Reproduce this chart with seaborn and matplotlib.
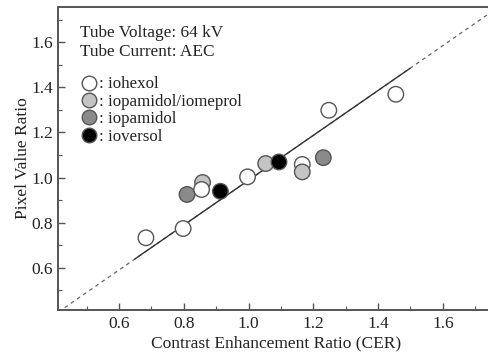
import numpy as np
import pandas as pd
import matplotlib
matplotlib.use("Agg")
import matplotlib.pyplot as plt
from matplotlib.lines import Line2D
from matplotlib.ticker import MultipleLocator
import seaborn as sns

# ---- data ----
agents = ["iohexol", "iopamidol/iomeprol", "iopamidol", "ioversol"]
agent_colors = ["#ffffff", "#c4c4c4", "#8a8a8a", "#000000"]

cer = [0.683, 0.798, 0.810, 0.858, 0.855, 0.913, 0.997, 1.053, 1.094,
       1.166, 1.166, 1.231, 1.248, 1.455]
pvr = [0.733, 0.774, 0.925, 0.978, 0.947, 0.939, 1.003, 1.062, 1.069,
       1.058, 1.025, 1.088, 1.298, 1.369]
agent_of_point = ["iohexol", "iohexol", "iopamidol", "iopamidol/iomeprol",
                  "iohexol", "ioversol", "iohexol", "iopamidol/iomeprol",
                  "ioversol", "iohexol", "iopamidol/iomeprol", "iopamidol",
                  "iohexol", "iohexol"]

fit_slope = 0.994
fit_intercept = -0.006
fit_solid_range = [0.649, 1.499]
axis_range = [0.413, 1.757]

annot_lines = ["Tube Voltage: 64 kV", "Tube Current: AEC"]
xlabel = "Contrast Enhancement Ratio (CER)"
ylabel = "Pixel Value Ratio"

df = pd.DataFrame({"CER": cer, "PVR": pvr, "agent": agent_of_point})

sns.set_theme(style="white")
plt.rcParams["font.family"] = ["Liberation Serif", "DejaVu Serif"]

fig = plt.figure(figsize=(4.89, 3.58), dpi=100)
ax = fig.add_axes([58.5 / 489, 1 - 310 / 358, (493.6 - 58.5) / 489, (310 - 6.7) / 358])

# regression line: dashed full extent, solid over data range
xs_full = np.array(axis_range)
ax.plot(xs_full, fit_slope * xs_full + fit_intercept, ls=(0, (3, 3)),
        color="#666666", lw=0.9, zorder=1)
xs_solid = np.array(fit_solid_range)
ax.plot(xs_solid, fit_slope * xs_solid + fit_intercept, ls="-",
        color="#333333", lw=1.0, zorder=2)

palette = dict(zip(agents, agent_colors))
sns.scatterplot(data=df, x="CER", y="PVR", hue="agent", palette=palette,
                hue_order=agents, s=125, edgecolor="#555555", linewidth=1.0,
                legend=False, ax=ax, zorder=3)

ax.set_xlim(axis_range)
ax.set_ylim(axis_range)
ax.xaxis.set_major_locator(MultipleLocator(0.2))
ax.xaxis.set_minor_locator(MultipleLocator(0.1))
ax.yaxis.set_major_locator(MultipleLocator(0.2))
ax.yaxis.set_minor_locator(MultipleLocator(0.1))
ax.set_xticks([0.6, 0.8, 1.0, 1.2, 1.4, 1.6])
ax.set_yticks([0.6, 0.8, 1.0, 1.2, 1.4, 1.6])
ax.tick_params(which="major", direction="in", length=5, width=1.0,
               color="#555555", labelsize=12.5, labelcolor="#222222",
               bottom=True, left=True, top=False, right=False, pad=4)
ax.tick_params(which="minor", direction="in", length=3, width=0.8,
               color="#555555", bottom=True, left=True, top=False, right=False)

for side in ["left", "bottom", "top", "right"]:
    ax.spines[side].set_color("#555555")
    ax.spines[side].set_linewidth(1.4)

ax.set_xlabel(xlabel, fontsize=12.5, color="#222222", labelpad=3)
ax.set_ylabel(ylabel, fontsize=12.5, color="#222222", labelpad=0)

ax.text(0.049, 0.913, annot_lines[0], transform=ax.transAxes, fontsize=12.4,
        color="#222222", va="center", ha="left")
ax.text(0.049, 0.851, annot_lines[1], transform=ax.transAxes, fontsize=12.4,
        color="#222222", va="center", ha="left")

handles = [Line2D([0], [0], marker="o", ls="none", markersize=10.5,
                  markerfacecolor=c, markeredgecolor="#555555",
                  markeredgewidth=1.0) for c in agent_colors]
labels = [": " + a for a in agents]
leg = ax.legend(handles, labels, loc="upper left",
                bbox_to_anchor=(0.055, 0.77), frameon=False, fontsize=12.2,
                handlelength=0.8, handletextpad=0.2, labelspacing=0.08,
                borderpad=0, borderaxespad=0)
for t in leg.get_texts():
    t.set_color("#222222")

fig.savefig("out.png", dpi=100)
